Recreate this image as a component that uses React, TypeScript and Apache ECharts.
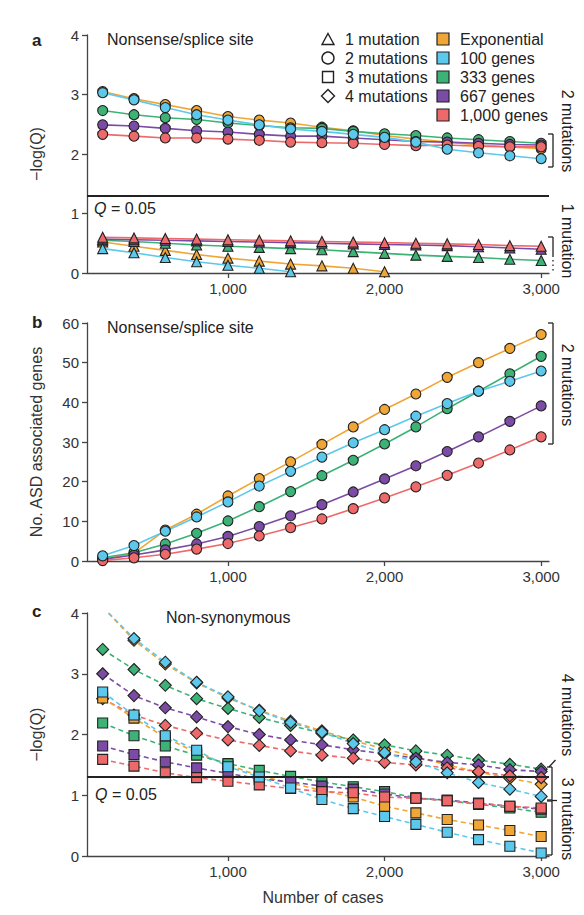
import React, { useEffect, useRef } from "react";
import * as echarts from "echarts";

// ---------- data ----------
const cases = [200, 400, 600, 800, 1000, 1200, 1400, 1600, 1800, 2000, 2200, 2400, 2600, 2800, 3000];
const modelNames = ["Exponential", "100 genes", "333 genes", "667 genes", "1,000 genes"];
const modelColors = ["#F0A637", "#5CC8EC", "#3DB276", "#7B4BA6", "#EE6A6A"];
const mutationLabels = ["1 mutation", "2 mutations", "3 mutations", "4 mutations"];
const xTicks = [1000, 2000, 3000];
const qThreshold = 1.301; // -log10(0.05)

// panel a: nonsense/splice site, -log(Q), 1 mutation
const a1Exp = [0.52, 0.45, 0.38, 0.31, 0.25, 0.2, 0.15, 0.12, 0.08, 0.02];
const a1G100 = [0.41, 0.34, 0.26, 0.19, 0.13, 0.08, 0.02];
const a1G333 = [0.55, 0.53, 0.5, 0.47, 0.45, 0.43, 0.41, 0.39, 0.36, 0.33, 0.3, 0.28, 0.26, 0.23, 0.21];
const a1G667 = [0.57, 0.56, 0.55, 0.54, 0.53, 0.52, 0.51, 0.5, 0.49, 0.48, 0.47, 0.46, 0.44, 0.42, 0.4];
const a1G1000 = [0.6, 0.59, 0.58, 0.57, 0.56, 0.55, 0.54, 0.53, 0.52, 0.51, 0.5, 0.49, 0.48, 0.46, 0.45];

// panel a: 2 mutations
const a2Exp = [3.05, 2.93, 2.83, 2.73, 2.63, 2.57, 2.52, 2.45, 2.39, 2.31, 2.25, 2.2, 2.15, 2.12, 2.09];
const a2G100 = [3.03, 2.91, 2.78, 2.66, 2.57, 2.49, 2.42, 2.38, 2.33, 2.28, 2.2, 2.08, 2.02, 1.97, 1.92];
const a2G333 = [2.73, 2.66, 2.61, 2.58, 2.52, 2.48, 2.44, 2.43, 2.38, 2.34, 2.31, 2.27, 2.24, 2.21, 2.18];
const a2G667 = [2.49, 2.47, 2.43, 2.39, 2.37, 2.33, 2.3, 2.3, 2.27, 2.24, 2.21, 2.2, 2.18, 2.16, 2.15];
const a2G1000 = [2.33, 2.3, 2.27, 2.27, 2.25, 2.23, 2.2, 2.19, 2.18, 2.16, 2.14, 2.15, 2.13, 2.12, 2.12];

// panel b: number of ASD associated genes, 2 mutations
const bExp = [0.4, 2.0, 7.8, 11.8, 16.4, 20.8, 25.0, 29.4, 33.8, 38.2, 42.1, 46.3, 50.0, 53.6, 57.1];
const bG100 = [1.3, 3.9, 7.5, 11.1, 14.9, 18.9, 22.6, 26.2, 29.8, 33.1, 36.5, 39.7, 42.8, 45.3, 47.9];
const bG333 = [0.8, 2.1, 4.3, 7.0, 10.1, 13.7, 17.5, 21.5, 25.4, 29.5, 33.8, 38.4, 42.8, 47.2, 51.6];
const bG667 = [0.4, 1.5, 2.8, 4.3, 6.2, 8.7, 11.4, 14.2, 17.4, 20.7, 24.0, 27.6, 31.3, 35.2, 39.1];
const bG1000 = [0.1, 0.8, 1.7, 3.0, 4.4, 6.3, 8.4, 10.6, 13.2, 15.9, 18.7, 21.6, 24.7, 28.0, 31.3];

// panel c: non-synonymous, -log(Q), 3 mutations
const c3Exp = [2.6, 2.27, 1.95, 1.7, 1.5, 1.32, 1.2, 1.08, 0.97, 0.82, 0.71, 0.6, 0.51, 0.42, 0.32];
const c3G100 = [2.7, 2.32, 1.98, 1.74, 1.47, 1.3, 1.12, 0.93, 0.78, 0.65, 0.52, 0.39, 0.27, 0.16, 0.05];
const c3G333 = [2.19, 1.98, 1.81, 1.66, 1.52, 1.41, 1.31, 1.22, 1.14, 1.06, 0.96, 0.91, 0.85, 0.79, 0.72];
const c3G667 = [1.81, 1.67, 1.55, 1.45, 1.36, 1.27, 1.22, 1.15, 1.1, 1.02, 0.95, 0.92, 0.87, 0.82, 0.77];
const c3G1000 = [1.59, 1.48, 1.37, 1.29, 1.23, 1.17, 1.11, 1.06, 1.04, 0.97, 0.95, 0.91, 0.86, 0.82, 0.79];

// panel c: 4 mutations
const c4Exp = [4.1, 3.55, 3.16, 2.85, 2.6, 2.4, 2.22, 2.06, 1.9, 1.76, 1.63, 1.5, 1.38, 1.28, 1.18];
const c4G100 = [4.1, 3.58, 3.19, 2.86, 2.62, 2.39, 2.2, 2.04, 1.85, 1.7, 1.55, 1.37, 1.21, 1.1, 0.98];
const c4G333 = [3.4, 3.07, 2.81, 2.59, 2.43, 2.28, 2.15, 2.02, 1.91, 1.83, 1.73, 1.66, 1.58, 1.51, 1.43];
const c4G667 = [3.0, 2.64, 2.44, 2.29, 2.13, 2.0, 1.91, 1.83, 1.75, 1.68, 1.61, 1.54, 1.5, 1.42, 1.39];
const c4G1000 = [2.59, 2.32, 2.15, 2.02, 1.91, 1.82, 1.73, 1.66, 1.61, 1.54, 1.5, 1.45, 1.39, 1.32, 1.29];

// ---------- helpers ----------
const FONT = "'Liberation Sans', Arial, Helvetica, sans-serif";
const INK = "#222";

function mkSeries(
  name: string,
  values: number[],
  modelIdx: number,
  symbol: string,
  size: number,
  grid: number,
  dashed: boolean
) {
  const color = modelColors[modelIdx];
  return {
    type: "line",
    name,
    xAxisIndex: grid,
    yAxisIndex: grid,
    data: values.map((v, i) => [cases[i], v]),
    symbol,
    symbolSize: size,
    showAllSymbol: true,
    clip: true,
    itemStyle: { color, borderColor: INK, borderWidth: 1.1 },
    lineStyle: { color, width: 1.6, type: dashed ? [5, 3.5] : "solid" },
    emphasis: { disabled: true },
    z: 3,
  };
}

function xAxis(grid: number) {
  return {
    type: "value",
    gridIndex: grid,
    min: 100,
    max: 3050,
    axisLine: { show: true, onZero: false, lineStyle: { color: "#444", width: 1.3 } },
    axisTick: { show: true, length: 5, customValues: xTicks, lineStyle: { color: "#444", width: 1.3 } },
    axisLabel: {
      customValues: xTicks,
      fontSize: 15,
      color: "#333",
      fontFamily: FONT,
      margin: 8,
      formatter: (v: number) => v.toLocaleString("en-US"),
    },
    splitLine: { show: false },
  };
}

function yAxis(grid: number, max: number, interval: number, name: string) {
  return {
    type: "value",
    gridIndex: grid,
    min: 0,
    max,
    interval,
    name,
    nameLocation: "middle",
    nameRotate: 90,
    nameGap: 43,
    nameTextStyle: { fontSize: 16, color: "#333", fontFamily: FONT },
    axisLine: { show: true, lineStyle: { color: "#444", width: 1.3 } },
    axisTick: { show: true, length: 5, lineStyle: { color: "#444", width: 1.3 } },
    axisLabel: { fontSize: 15, color: "#333", fontFamily: FONT, margin: 8 },
    splitLine: { show: false },
  };
}

function txt(x: number, y: number, text: string, opts: any = {}) {
  return {
    type: "text",
    x,
    y,
    rotation: opts.rotation || 0,
    silent: true,
    style: {
      text,
      fill: opts.fill || INK,
      fontSize: opts.fontSize || 16,
      fontWeight: opts.fontWeight || "normal",
      fontFamily: FONT,
      align: opts.align || "left",
      verticalAlign: opts.verticalAlign || "middle",
      rich: opts.rich,
    },
  };
}

function seg(x1: number, y1: number, x2: number, y2: number, dash?: number[]) {
  return {
    type: "line",
    silent: true,
    shape: { x1, y1, x2, y2 },
    style: { stroke: INK, lineWidth: 1.3, lineDash: dash },
  };
}

function bracket(x: number, y1: number, y2: number) {
  return [seg(x - 5, y1, x, y1), seg(x, y1, x, y2), seg(x - 5, y2, x, y2)];
}

const qLine = {
  silent: true,
  symbol: "none",
  label: { show: false },
  lineStyle: { color: INK, width: 1.8, type: "solid" },
  data: [{ yAxis: qThreshold }],
};

export default function App() {
  const ref = useRef<HTMLDivElement>(null);

  useEffect(() => {
    if (!ref.current) return;
    const chart = echarts.init(ref.current, undefined, { renderer: "svg" });

    const series: any[] = [];
    const a1 = [a1Exp, a1G100, a1G333, a1G667, a1G1000];
    const a2 = [a2Exp, a2G100, a2G333, a2G667, a2G1000];
    const b2 = [bExp, bG100, bG333, bG667, bG1000];
    const c3 = [c3Exp, c3G100, c3G333, c3G667, c3G1000];
    const c4 = [c4Exp, c4G100, c4G333, c4G667, c4G1000];
    const order = [0, 2, 3, 4, 1];

    order.forEach((m) => series.push(mkSeries(modelNames[m] + " a1", a1[m], m, "triangle", 10, 0, false)));
    order.forEach((m) => series.push(mkSeries(modelNames[m] + " a2", a2[m], m, "circle", 10, 0, false)));
    series[0].markLine = qLine;
    order.forEach((m) => series.push(mkSeries(modelNames[m] + " b", b2[m], m, "circle", 10, 1, false)));
    order.forEach((m) => series.push(mkSeries(modelNames[m] + " c4", c4[m], m, "diamond", 12, 2, true)));
    order.forEach((m) => series.push(mkSeries(modelNames[m] + " c3", c3[m], m, "rect", 10, 2, true)));
    series[series.length - 1].markLine = qLine;

    const legendShapes: any[] = [
      { type: "polygon", shape: { points: [[328, 33.5], [334, 44.5], [322, 44.5]] } },
      { type: "circle", shape: { cx: 328, cy: 58, r: 6 } },
      { type: "rect", shape: { x: 322.5, y: 71.5, width: 11, height: 11 } },
      { type: "polygon", shape: { points: [[328, 89.5], [334.5, 96], [328, 102.5], [321.5, 96]] } },
    ].map((s) => ({ ...s, silent: true, style: { fill: "none", stroke: INK, lineWidth: 1.4 } }));
    const legendRowsY = [39, 58, 77, 96, 115];

    const graphic: any[] = [
      txt(32, 40, "a", { fontWeight: "bold", fontSize: 17 }),
      txt(32, 322, "b", { fontWeight: "bold", fontSize: 17 }),
      txt(32, 611, "c", { fontWeight: "bold", fontSize: 17 }),
      txt(107, 39, "Nonsense/splice site"),
      txt(107, 327, "Nonsense/splice site"),
      txt(166, 617, "Non-synonymous"),
      txt(94, 208, "{q|Q} = 0.05", { rich: { q: { fontStyle: "italic", fontSize: 16, fontFamily: FONT, fill: INK } } }),
      txt(95, 794, "{q|Q} = 0.05", { rich: { q: { fontStyle: "italic", fontSize: 16, fontFamily: FONT, fill: INK } } }),
      ...legendShapes,
      ...mutationLabels.map((l, i) => txt(345, legendRowsY[i], l)),
      ...modelNames.map((n, i) => ({
        type: "rect",
        silent: true,
        shape: { x: 437, y: legendRowsY[i] - 6, width: 12, height: 12 },
        style: { fill: modelColors[i], stroke: INK, lineWidth: 1.2 },
      })),
      ...modelNames.map((n, i) => txt(460, legendRowsY[i], n)),
      // panel a brackets
      ...bracket(553, 134, 167),
      txt(567, 131, "2 mutations", { rotation: -Math.PI / 2, align: "center" }),
      seg(548, 237, 553, 237),
      seg(553, 237, 553, 257),
      seg(553, 260, 553, 273, [1.5, 3]),
      txt(567, 241, "1 mutation", { rotation: -Math.PI / 2, align: "center" }),
      // panel b bracket
      ...bracket(553, 323, 444),
      txt(567, 385, "2 mutations", { rotation: -Math.PI / 2, align: "center" }),
      // panel c brackets
      ...bracket(552, 767, 800),
      ...bracket(552, 801, 855),
      seg(549, 767, 555.5, 760),
      seg(552, 800.5, 557, 800.5),
      txt(567, 715, "4 mutations", { rotation: -Math.PI / 2, align: "center" }),
      txt(567, 819, "3 mutations", { rotation: -Math.PI / 2, align: "center" }),
      txt(323, 897, "Number of cases", { align: "center", fill: "#333" }),
    ];

    chart.setOption({
      animation: false,
      backgroundColor: "#fff",
      grid: [
        { left: 87, top: 35, width: 462, height: 238 },
        { left: 87, top: 323, width: 462, height: 238 },
        { left: 87, top: 613, width: 462, height: 243 },
      ],
      xAxis: [xAxis(0), xAxis(1), xAxis(2)],
      yAxis: [
        yAxis(0, 4, 1, "\u2212log(Q)"),
        yAxis(1, 60, 10, "No. ASD associated genes"),
        yAxis(2, 4, 1, "\u2212log(Q)"),
      ],
      series,
      graphic,
    });

    return () => chart.dispose();
  }, []);

  return (
    <div
      ref={ref}
      style={{ position: "fixed", left: 0, top: 0, width: 584, height: 915, background: "#fff" }}
    />
  );
}
